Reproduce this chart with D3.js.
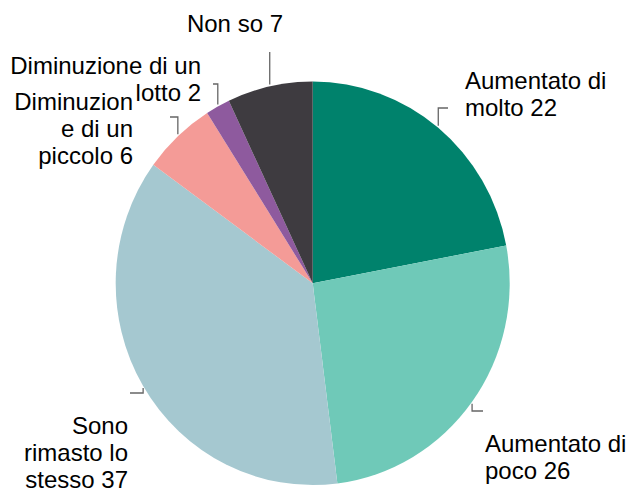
<!DOCTYPE html>
<html>
<head>
<meta charset="utf-8">
<script src="https://cdn.jsdelivr.net/npm/d3@7"></script>
<style>
  body { margin: 0; background: #fff; }
  svg { display: block; font-family: "Liberation Sans", Arial, sans-serif; }
</style>
</head>
<body>
<div id="chart"></div>
<script>
// categories, values and the wrapped label text
const categories = ["Aumentato di molto", "Aumentato di poco", "Sono rimasto lo stesso",
  "Diminuzione di un piccolo", "Diminuzione di un lotto", "Non so"];
const values = [22, 26, 37, 6, 2, 7];
const labelLines = [
  ["Aumentato di", "molto 22"],
  ["Aumentato di", "poco 26"],
  ["Sono", "rimasto lo", "stesso 37"],
  ["Diminuzion", "e di un", "piccolo 6"],
  ["Diminuzione di un", "lotto 2"],
  ["Non so 7"]
];
const colors = ["#00826c", "#6fc9b8", "#a5c8d0", "#f49b97", "#8e5a9e", "#3e3b40"];

// label placement: text anchor point, elbow of leader line
const labelPos = [
  { x: 465, y: 89, anchor: "start", elbowY: 108, elbowX: 448 },
  { x: 485, y: 452, anchor: "start", elbowY: 411, elbowX: 483 },
  { x: 128, y: 434, anchor: "end", elbowY: 393, elbowX: 130 },
  { x: 133, y: 110, anchor: "end", elbowY: 117, elbowX: 170 },
  { x: 201, y: 74, anchor: "end", elbowY: 84, elbowX: 213 },
  { x: 283, y: 32, anchor: "end", elbowY: 52, elbowX: null }
];

const width = 629, height = 492;
const cx = 312.7, cy = 283.3, radius = 197, yScale = 1.024;
const lineHeight = 27;

const data = categories.map((c, i) => ({ name: c, value: values[i], i }));

const svg = d3.select("#chart").append("svg")
  .attr("width", width)
  .attr("height", height);

const pie = d3.pie().sort(null).value(d => d.value);
const arcs = pie(data);
const arc = d3.arc().innerRadius(0).outerRadius(radius);

svg.append("g")
  .attr("transform", `translate(${cx},${cy}) scale(1,${yScale})`)
  .selectAll("path")
  .data(arcs)
  .enter()
  .append("path")
  .attr("d", arc)
  .attr("fill", d => colors[d.data.i]);

// leader lines start just outside the slice edge at its middle angle
const leaders = svg.append("g")
  .attr("fill", "none")
  .attr("stroke", "#666")
  .attr("stroke-width", 1.3);

arcs.forEach(d => {
  const p = labelPos[d.data.i];
  const mid = (d.startAngle + d.endAngle) / 2;
  const x0 = cx + radius * Math.sin(mid);
  const yEdge = cy - radius * yScale * Math.cos(mid);
  const dir = p.elbowY < yEdge ? -1 : 1;
  const y0 = yEdge + dir * 2;
  let path = `M${x0},${y0}V${p.elbowY}`;
  if (p.elbowX !== null) path += `H${p.elbowX}`;
  leaders.append("path").attr("d", path);
});

// labels
const labels = svg.append("g")
  .selectAll("text")
  .data(data)
  .enter()
  .append("text")
  .attr("x", d => labelPos[d.i].x)
  .attr("y", d => labelPos[d.i].y)
  .attr("text-anchor", d => labelPos[d.i].anchor)
  .attr("font-size", 24)
  .attr("fill", "#000");

labels.selectAll("tspan")
  .data(d => labelLines[d.i].map(t => ({ t, d })))
  .enter()
  .append("tspan")
  .attr("x", e => labelPos[e.d.i].x)
  .attr("dy", (e, k) => k === 0 ? 0 : lineHeight)
  .text(e => e.t);
</script>
</body>
</html>
